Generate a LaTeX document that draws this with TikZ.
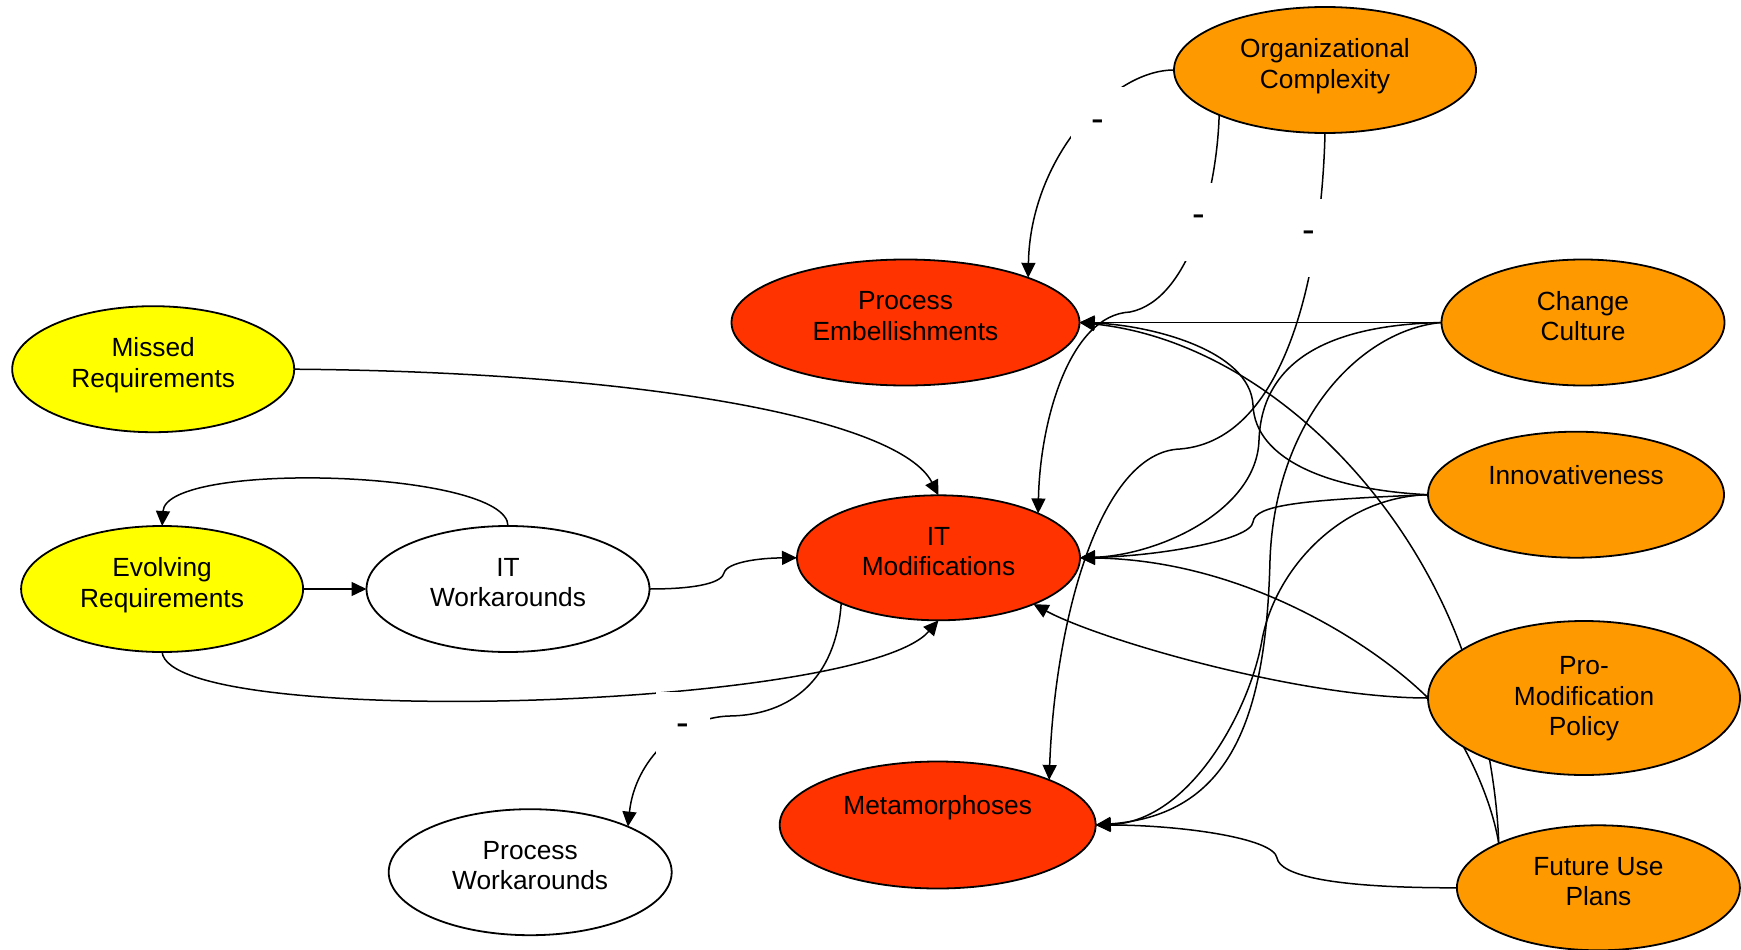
\documentclass[tikz,border=0pt]{standalone}
\usepackage{fontspec}
\setmainfont{Liberation Sans}
\usetikzlibrary{arrows.meta,shapes.geometric}
\definecolor{reqyellow}{HTML}{FFFF00}
\definecolor{causeorange}{HTML}{FF9900}
\definecolor{effectred}{HTML}{FF3300}
\pgfdeclarelayer{edges}
\pgfdeclarelayer{labels}
\pgfsetlayers{edges,labels,main}

\begin{document}
\begin{tikzpicture}[x=1pt,y=-1pt,
  bubble/.style={ellipse, draw=black, line width=1.8pt, inner sep=0pt, outer sep=0pt},
  caption/.style={align=center, inner sep=0pt, font=\fontsize{26.3}{30.5}\selectfont,
    execute at begin node=\strut, execute at end node=\strut},
  signbox/.style={fill=white, inner sep=0pt, minimum width=54pt, minimum height=78pt,
    text height=10pt, text depth=0pt, font=\fontsize{38}{44}\selectfont},
  arrowlink/.style={line width=1.5pt, -{Triangle[length=15pt,width=14pt]}}
]
\useasboundingbox (0,0) rectangle (1741,950);

% ---- factors (right column) ----
\node[bubble, fill=causeorange, minimum width=302pt, minimum height=126pt] (orgc) at (1325,70) {};
\node[bubble, fill=causeorange, minimum width=283pt, minimum height=126pt] (chg) at (1583,322.5) {};
\node[bubble, fill=causeorange, minimum width=296pt, minimum height=126pt] (innov) at (1576,494.7) {};
\node[bubble, fill=causeorange, minimum width=312pt, minimum height=154pt] (promod) at (1584,698) {};
\node[bubble, fill=causeorange, minimum width=283pt, minimum height=125pt] (fup) at (1598.4,887.8) {};

% ---- outcomes (middle column) ----
\node[bubble, fill=effectred, minimum width=348pt, minimum height=126pt] (proc) at (905.5,322.5) {};
\node[bubble, fill=effectred, minimum width=283pt, minimum height=125pt] (itmod) at (938.5,557.8) {};
\node[bubble, fill=effectred, minimum width=316pt, minimum height=127pt] (meta) at (937.7,825) {};

% ---- requirements and workarounds (left) ----
\node[bubble, fill=reqyellow, minimum width=282pt, minimum height=126pt] (missed) at (153.2,369.2) {};
\node[bubble, fill=reqyellow, minimum width=282pt, minimum height=126pt] (evol) at (162.1,589) {};
\node[bubble, fill=white, minimum width=283pt, minimum height=126pt] (itw) at (508,589) {};
\node[bubble, fill=white, minimum width=283pt, minimum height=126pt] (pw) at (530.2,872.2) {};

% ---- captions ----
\node[caption] (orgc-text) at ([yshift=2pt]orgc.center) {Organizational\\Complexity};
\node[caption] (chg-text) at ([yshift=2pt]chg.center) {Change\\Culture};
\node[caption] (innov-text) at ([yshift=16.5pt]innov.center) {Innovativeness};
\node[caption] (promod-text) at ([yshift=-3pt]promod.center) {Pro-\\Modification\\Policy};
\node[caption] (fup-text) at ([yshift=2pt]fup.center) {Future Use\\Plans};
\node[caption] (proc-text) at ([yshift=2pt]proc.center) {Process\\Embellishments};
\node[caption] (itmod-text) at ([yshift=2pt]itmod.center) {IT\\Modifications};
\node[caption] (meta-text) at ([yshift=16.5pt]meta.center) {Metamorphoses};
\node[caption] (missed-text) at ([yshift=2pt]missed.center) {Missed\\Requirements};
\node[caption] (evol-text) at ([yshift=2pt]evol.center) {Evolving\\Requirements};
\node[caption] (itw-text) at ([yshift=2pt]itw.center) {IT\\Workarounds};
\node[caption] (pw-text) at ([yshift=2pt]pw.center) {Process\\Workarounds};

% ---- negative-influence labels ----
\begin{pgfonlayer}{labels}
\node[signbox] (neg1) at (1098,126.5) {-};
\node[signbox] (neg2) at (1199,221.5) {-};
\node[signbox] (neg3) at (1309,237.5) {-};
\node[signbox] (neg4) at (683,730.5) {-};
\end{pgfonlayer}

% ---- connectors ----
\begin{pgfonlayer}{edges}
% organizational complexity
\draw[arrowlink] (orgc.west) .. controls (1110,70) and (1030,160) .. (proc.20);
\draw[arrowlink] (orgc.203) .. controls (1217,190) and (1190,300) .. (1130,312)
  .. controls (1070,315) and (1040,420) .. (itmod.24);
\draw[arrowlink] (orgc.south) .. controls (1322,260) and (1290,440) .. (1180,449)
  .. controls (1100,452) and (1055,620) .. (meta.22);
% change culture
\draw[arrowlink] (chg.west) -- (proc.east);
\draw[arrowlink] (chg.west) .. controls (1330,325) and (1262,360) .. (1259,440)
  .. controls (1257,510) and (1160,555) .. (itmod.east);
\draw[arrowlink] (chg.west) .. controls (1360,330) and (1275,420) .. (1270,560)
  .. controls (1266,720) and (1230,815) .. (meta.east);
% innovativeness
\draw[arrowlink] (innov.west) .. controls (1330,490) and (1255,460) .. (1253,405)
  .. controls (1250,350) and (1150,325) .. (proc.east);
\draw[arrowlink] (innov.west) .. controls (1300,500) and (1255,505) .. (1253,522)
  .. controls (1251,540) and (1160,556) .. (itmod.east);
\draw[arrowlink] (innov.west) .. controls (1340,497) and (1275,570) .. (1262,640)
  .. controls (1250,710) and (1190,822) .. (meta.east);
% pro-modification policy
\draw[arrowlink] (promod.west) .. controls (1300,698) and (1100,640) .. (itmod.334);
% future use plans
\draw[arrowlink] (fup.156) .. controls (1490,790) and (1455,722) .. (promod.west)
  .. controls (1380,650) and (1250,560) .. (itmod.east);
\draw[arrowlink] (fup.156) .. controls (1497,790) and (1485,720) .. (1462,650)
  .. controls (1400,480) and (1250,340) .. (proc.east);
\draw[arrowlink] (fup.west) .. controls (1330,888) and (1280,875) .. (1277,858)
  .. controls (1274,838) and (1180,825) .. (meta.east);
% requirements and workarounds
\draw[arrowlink] (missed.east) .. controls (650,372) and (900,420) .. (itmod.north);
\draw[arrowlink] (itw.north) .. controls (508,470) and (166,460) .. (evol.north);
\draw[arrowlink] (evol.east) -- (itw.west);
\draw[arrowlink] (itw.east) .. controls (700,589) and (722,582) .. (724,573)
  .. controls (727,562) and (760,558) .. (itmod.west);
\draw[arrowlink] (evol.south) .. controls (170,730) and (860,710) .. (itmod.south);
\draw[arrowlink] (itmod.205) .. controls (836,680) and (790,715) .. (730,716)
  .. controls (680,717) and (635,760) .. (pw.25);
\end{pgfonlayer}
\end{tikzpicture}
\end{document}
